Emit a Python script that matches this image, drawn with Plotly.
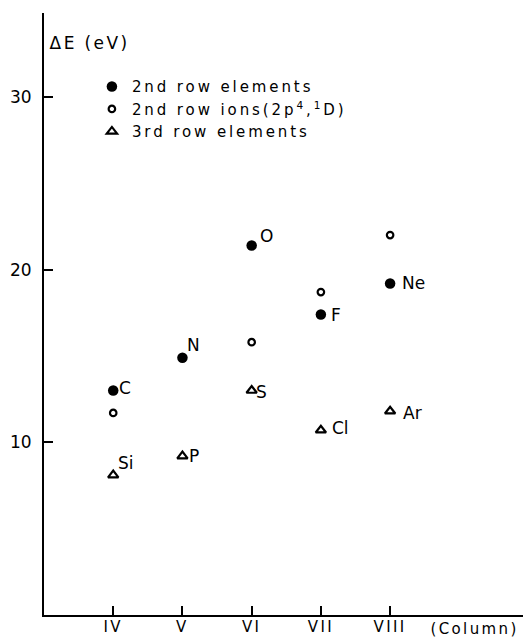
import plotly.graph_objects as go

# Periodic-table columns on the x axis
columns = [4, 5, 6, 7, 8]
column_labels = ["IV", "V", "VI", "VII", "VIII"]

# Second-row atoms (filled circles)
row2_symbols = ["C", "N", "O", "F", "Ne"]
row2_energy = [13.0, 14.9, 21.4, 17.4, 19.2]

# Second-row ions in the 2p4 1D state (open circles)
ion_columns = [4, 6, 7, 8]
ion_energy = [11.7, 15.8, 18.7, 22.0]

# Third-row atoms (open triangles)
row3_symbols = ["Si", "P", "S", "Cl", "Ar"]
row3_energy = [8.1, 9.2, 13.0, 10.7, 11.8]

y_ticks = [10, 20, 30]

FONT = "DejaVu Sans"
INK = "black"

# pixel offsets of each element symbol relative to its marker
label_offset = {
    "C": (4, 3), "N": (3, 13), "O": (6, 9), "F": (8, 0), "Ne": (10, 0),
    "Si": (3, 12), "P": (5, 0), "S": (2, -1), "Cl": (9, 2), "Ar": (11, -2),
}

fig = go.Figure()

fig.add_trace(go.Scatter(
    x=columns, y=row2_energy, mode="markers",
    name="2nd row elements",
    marker=dict(symbol="circle", size=10.5, color=INK, line=dict(width=0)),
))
fig.add_trace(go.Scatter(
    x=ion_columns, y=ion_energy, mode="markers",
    name="2nd row ions(2p<sup>4</sup>,<sup>1</sup>D)",
    marker=dict(symbol="circle-open", size=6.5, color=INK, line=dict(width=2.2, color=INK)),
))
fig.add_trace(go.Scatter(
    x=columns, y=row3_energy, mode="markers",
    name="3rd row elements",
    marker=dict(symbol="triangle-up-open", size=9, color=INK, line=dict(width=2.2, color=INK)),
))

annotations = []
for xs, ys, names in ((columns, row2_energy, row2_symbols), (columns, row3_energy, row3_symbols)):
    for xv, yv, nm in zip(xs, ys, names):
        dx, dy = label_offset[nm]
        annotations.append(dict(
            x=xv, y=yv, xref="x", yref="y", text=nm, showarrow=False,
            xanchor="left", yanchor="middle", xshift=dx, yshift=dy,
            font=dict(family=FONT, size=17, color=INK),
        ))

# axis captions
annotations.append(dict(
    x=0, xref="paper", y=33.14, yref="y", text="ΔE (eV)", showarrow=False,
    xanchor="left", yanchor="middle", xshift=12,
    font=dict(family=FONT, size=17, color=INK),
))
annotations.append(dict(
    x=9.22, xref="x", y=0, yref="paper", text="(Column)", showarrow=False,
    xanchor="center", yanchor="top", yshift=-3,
    font=dict(family=FONT, size=15, color=INK),
))

axis_style = dict(
    showline=True, linewidth=2, linecolor=INK, mirror=False,
    ticks="inside", ticklen=9, tickwidth=2, tickcolor=INK,
    showgrid=False, zeroline=False, automargin=False,
)

fig.update_layout(
    width=523, height=639,
    margin=dict(l=44, r=0, t=13, b=24, pad=0),
    paper_bgcolor="white", plot_bgcolor="white",
    font=dict(family=FONT, color=INK),
    showlegend=True,
    legend=dict(
        x=0.10, y=0.905, xanchor="left", yanchor="top",
        bgcolor="rgba(0,0,0,0)", borderwidth=0,
        font=dict(family=FONT, size=15, color=INK),
        itemclick=False, itemdoubleclick=False,
    ),
    xaxis=dict(
        range=[3, 9.92], tickmode="array", tickvals=columns, ticktext=column_labels,
        tickfont=dict(family=FONT, size=15, color=INK), ticklabelstandoff=-3,
        **axis_style,
    ),
    yaxis=dict(
        range=[0, 34.86], tickmode="array", tickvals=y_ticks,
        tickfont=dict(family=FONT, size=17, color=INK), ticklabelstandoff=7,
        **axis_style,
    ),
    annotations=annotations,
)

# widen the lettering of legend entries, column labels and captions
post = """
var gd = document.getElementById('{plot_id}');
gd.querySelectorAll('.legend [clip-path]').forEach(function(e){ e.removeAttribute('clip-path'); });
gd.querySelectorAll('.legendtext').forEach(function(t){ t.style.letterSpacing = '2.9px'; });
gd.querySelectorAll('.xtick text').forEach(function(t){ t.style.letterSpacing = '2.4px'; });
gd.querySelectorAll('.annotation-text').forEach(function(t){
  if (t.textContent.indexOf('(') >= 0) { t.style.letterSpacing = '2.4px'; }
});
"""

fig.write_html("out.html", post_script=post, config={"displayModeBar": False})
